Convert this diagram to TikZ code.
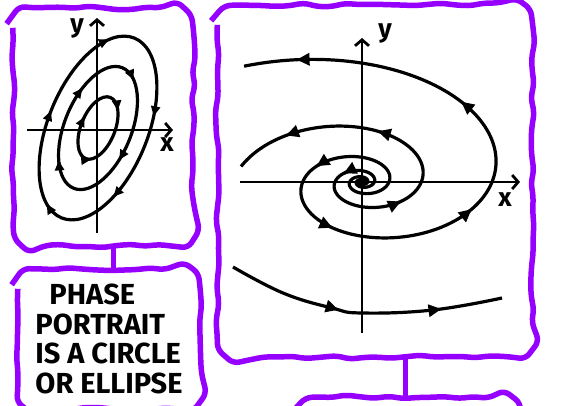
\documentclass[tikz,border=0pt]{standalone}
\usepackage{fontspec}
\setmainfont{Fira Sans}
\usetikzlibrary{arrows.meta, decorations.pathmorphing, decorations.markings, positioning}
\definecolor{boxc}{RGB}{150,0,255}
\tikzset{
  wavybox/.style={inner sep=0pt},
  wavyline/.style={draw=boxc, line width=5.5pt, rounded corners=6pt,
                   decoration={random steps, segment length=14pt, amplitude=2pt}},
  link/.style={draw=boxc, line width=5pt},
  axis/.style={line width=2.8pt, -{Straight Barb[length=6pt, width=14pt]}},
  orbit/.style={line width=3.2pt},
  ftip/.style={line width=3.2pt, -{Triangle[length=13pt, width=12pt]}},
  stip/.style={line width=2.8pt, -{Triangle[length=10pt, width=9pt]}},
  lbl/.style={font=\fontsize{26}{26}\selectfont\bfseries, inner sep=0pt},
}
\begin{document}
\begin{tikzpicture}[x=1pt, y=1pt]
  \pgfmathsetseed{7}
  \useasboundingbox (0,0) rectangle (565,-405);
  \clip (0,0) rectangle (565,-405);

  % the four boxes
  \node[wavybox, minimum width=180, minimum height=238] (ellbox) at (103,-127) {};
  \node[wavybox, minimum width=182, minimum height=140, align=left,
        font=\fontsize{29}{29.5}\selectfont\bfseries] (textbox) at (109,-339)
    {\hspace*{14pt}PHASE\\PORTRAIT\\IS A CIRCLE\\OR ELLIPSE};
  \node[wavybox, minimum width=315, minimum height=352] (spiralbox) at (375,-181) {};
  \node[wavybox, minimum width=222, minimum height=110] (nextbox) at (409,-452) {};
  \foreach \b in {ellbox,textbox,spiralbox,nextbox}
    \draw[wavyline] decorate {{[rounded corners=20pt]
      (\b.north west) rectangle (\b.south east)}};
  \draw[link] ([xshift=10]ellbox.south) -- ([xshift=10]ellbox.south |- textbox.north);
  \draw[link] ([xshift=30]spiralbox.south) -- ([xshift=30]spiralbox.south |- nextbox.north);

  % centre: closed orbits
  \begin{scope}[shift={(98,-128)}]
    \draw[axis] (-1,-105) -- (-1,110);
    \draw[axis] (-71,-2) -- (75,-2);
    \node[lbl] (ly) at (-21,100) {y};
    \node[lbl] (lx) at (69,-17) {x};
    \foreach \s in {1,0.67,0.34}
      \draw[orbit, rotate=68] (0,0) ellipse [x radius=97*\s, y radius=50*\s];
    \foreach \s/\angs in {1/{-29.4,68.9,124.7,200.4,267},
                          0.67/{24.6,107.5,224.5,296.6},
                          0.34/{41.9,200,277.5}}
      \foreach \t in \angs
        \draw[stip, rotate=68] plot[domain=\t:\t+2, samples=2, variable=\u]
          ({97*\s*cos(\u)}, {-50*\s*sin(\u)});
  \end{scope}

  % spiral source
  \begin{scope}[shift={(362,-182)}]
    \draw[axis] (0,-151) -- (0,144);
    \draw[axis] (-122,0) -- (158,0);
    \node[lbl] (sy) at (23,149) {y};
    \node[lbl] (sx) at (143,-18) {x};
    \draw[orbit] plot[domain=-15.7:2.136, samples=500, variable=\t]
      ({130*exp(0.25*\t)*cos(\t r)}, {80.3*exp(0.25*\t)*sin(\t r)});
    \draw[orbit] plot[domain=-15.7:-0.2, samples=500, variable=\t]
      ({-130*exp(0.25*\t)*cos(\t r)}, {-80.3*exp(0.25*\t)*sin(\t r)});
    \foreach \t in {1.86,0.89,-0.41,-1.98,-3.68}
      \draw[ftip] plot[domain=\t:\t+0.03, samples=2, variable=\u]
        ({130*exp(0.25*\u)*cos(\u r)}, {80.3*exp(0.25*\u)*sin(\u r)});
    \foreach \t in {-0.81,-1.79,-3.85,-6.95}
      \draw[ftip] plot[domain=\t:\t+0.03, samples=2, variable=\u]
        ({-130*exp(0.25*\u)*cos(\u r)}, {-80.3*exp(0.25*\u)*sin(\u r)});
  \end{scope}
  \draw[orbit, postaction={decorate}, decoration={markings,
      mark=at position 0.41 with {\arrow{Triangle[length=13pt, width=12pt]}},
      mark=at position 0.78 with {\arrow{Triangle[length=13pt, width=12pt]}}}]
    plot[smooth, tension=0.7] coordinates {(233,-267) (283,-293) (332,-308)
      (362,-313) (433,-310) (502,-298)};
\end{tikzpicture}
\end{document}
